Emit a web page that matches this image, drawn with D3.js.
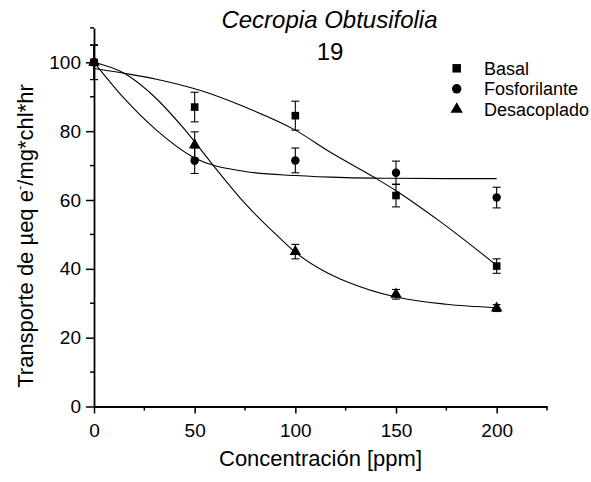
<!DOCTYPE html>
<html><head><meta charset="utf-8">
<script src="https://cdn.jsdelivr.net/npm/d3@7"></script>
<style>body{margin:0;background:#fff}svg{display:block;font-family:"Liberation Sans",Arial,sans-serif}</style>
</head><body><svg id="c" width="591" height="482"></svg>
<script>
const concentrations = [0, 50, 100, 150, 200];
const seriesNames = ["Basal", "Fosforilante", "Desacoplado"];
const basalValues = [100, 87.0, 84.5, 61.3, 40.8];
const basalErrors = [5, 4.3, 4.2, 3.3, 2.1];
const fosfoValues = [100, 71.4, 71.5, 67.9, 60.7];
const fosfoErrors = [5, 3.7, 3.6, 3.4, 3.0];
const desacValues = [100, 76.0, 45.0, 32.6, 28.6];
const desacErrors = [5, 3.8, 2.1, 1.4, 1.0];
// fitted curves
const basalFitX = [0, 15, 31, 53, 75, 100, 117, 140, 150, 172, 182, 200];
const basalFitY = [98.2, 96.8, 95.1, 91.8, 87.0, 80.3, 74.0, 66.3, 62.7, 53.7, 49.3, 41.0];
const fosfoFitX = [0, 15, 31, 50, 75, 100, 125, 150, 175, 200];
const fosfoFitY = [100, 89.5, 80.3, 72.2, 68.3, 67.1, 66.5, 66.3, 66.2, 66.2];
const desacFitX = [0, 15, 30, 45, 60, 75, 90, 100, 117, 125, 150, 175, 200];
const desacFitY = [100, 96.8, 90.0, 80.5, 69.5, 59.0, 50.2, 44.8, 38.5, 36.4, 31.8, 29.7, 28.7];
const xTicks = [0, 50, 100, 150, 200];
const xMinor = [25, 75, 125, 175, 225];
const yTicks = [0, 20, 40, 60, 80, 100];
const yMinor = [10, 30, 50, 70, 90, 110];

const svg = d3.select("#c");
const x = d3.scaleLinear().domain([0, 225]).range([94, 547]);
const y = d3.scaleLinear().domain([0, 110]).range([406.5, 27.9]);

// axes
const xAxis = svg.append("g").attr("transform", "translate(0,406.5)")
  .call(d3.axisBottom(x).tickValues(xTicks).tickSize(7).tickSizeOuter(0).tickPadding(5));
const yAxis = svg.append("g").attr("transform", "translate(94,0)")
  .call(d3.axisLeft(y).tickValues(yTicks).tickSize(8).tickSizeOuter(0).tickPadding(5));
[xAxis, yAxis].forEach(a => {
  a.select(".domain").attr("stroke", "#000").attr("stroke-width", 1.8);
  a.selectAll(".tick line").attr("stroke", "#000").attr("stroke-width", 1.5);
  a.selectAll(".tick text").attr("font-size", 19).attr("fill", "#000")
    .attr("font-family", "'Liberation Sans', Arial, sans-serif");
});
xAxis.selectAll(".tick text").attr("dy", "0.95em");
svg.append("g").selectAll("line").data(xMinor).join("line")
  .attr("x1", d => x(d)).attr("x2", d => x(d)).attr("y1", 406.5).attr("y2", 410.5)
  .attr("stroke", "#000").attr("stroke-width", 1.5);
svg.append("g").selectAll("line").data(yMinor).join("line")
  .attr("y1", d => y(d)).attr("y2", d => y(d)).attr("x1", 94).attr("x2", 90)
  .attr("stroke", "#000").attr("stroke-width", 1.5);

// titles
svg.append("text").attr("x", 329.5).attr("y", 27.5).attr("text-anchor", "middle")
  .attr("font-size", 24).attr("font-style", "italic").text("Cecropia Obtusifolia");
svg.append("text").attr("x", 330).attr("y", 60).attr("text-anchor", "middle")
  .attr("font-size", 24).text("19");
svg.append("text").attr("x", 320.5).attr("y", 466).attr("text-anchor", "middle")
  .attr("font-size", 22).text("Concentración [ppm]");
const yt = svg.append("text").attr("transform", "translate(32.5,236) rotate(-90)")
  .attr("text-anchor", "middle").attr("font-size", 22);
yt.append("tspan").text("Transporte de µeq e");
yt.append("tspan").attr("font-size", 13).attr("dy", -9).text("-");
yt.append("tspan").attr("dy", 9).text("/mg*chl*hr");

// curves
const line = d3.line().x(d => x(d[0])).y(d => y(d[1])).curve(d3.curveMonotoneX);
const fits = [[basalFitX, basalFitY], [fosfoFitX, fosfoFitY], [desacFitX, desacFitY]];
fits.forEach(([fx, fy]) => {
  svg.append("path").datum(fx.map((v, i) => [v, fy[i]])).attr("d", line)
    .attr("fill", "none").attr("stroke", "#000").attr("stroke-width", 1.1);
});

// error bars + markers
const symbols = [d3.symbolSquare, d3.symbolCircle, d3.symbolTriangle];
const sizes = [58, 56, 58];
const series = [[basalValues, basalErrors], [fosfoValues, fosfoErrors], [desacValues, desacErrors]];
series.forEach(([vals, errs], s) => {
  const g = svg.append("g");
  const pts = concentrations.map((c, i) => ({c, v: vals[i], e: errs[i]}));
  g.selectAll("line.v").data(pts).join("line")
    .attr("x1", d => x(d.c)).attr("x2", d => x(d.c))
    .attr("y1", d => y(d.v + d.e)).attr("y2", d => y(d.v - d.e))
    .attr("stroke", "#000").attr("stroke-width", 1.1);
  ["top", "bot"].forEach(k => {
    g.selectAll("line." + k).data(pts).join("line")
      .attr("x1", d => x(d.c) - 4).attr("x2", d => x(d.c) + 4)
      .attr("y1", d => y(k === "top" ? d.v + d.e : d.v - d.e))
      .attr("y2", d => y(k === "top" ? d.v + d.e : d.v - d.e))
      .attr("stroke", "#000").attr("stroke-width", 1.1);
  });
  g.selectAll("path").data(pts).join("path")
    .attr("transform", d => `translate(${x(d.c)},${y(d.v)})`)
    .attr("d", d3.symbol().type(symbols[s]).size(sizes[s])).attr("fill", "#000");
});

// legend
const leg = svg.append("g");
seriesNames.forEach((n, i) => {
  const ly = 68.3 + i * 20.5;
  leg.append("path").attr("transform", `translate(456.7,${ly})`)
    .attr("d", d3.symbol().type(symbols[i]).size(i === 0 ? 72 : i === 1 ? 70 : 66)).attr("fill", "#000");
  leg.append("text").attr("x", 484).attr("y", ly + 6.4).attr("font-size", 18).text(n);
});
</script></body></html>
